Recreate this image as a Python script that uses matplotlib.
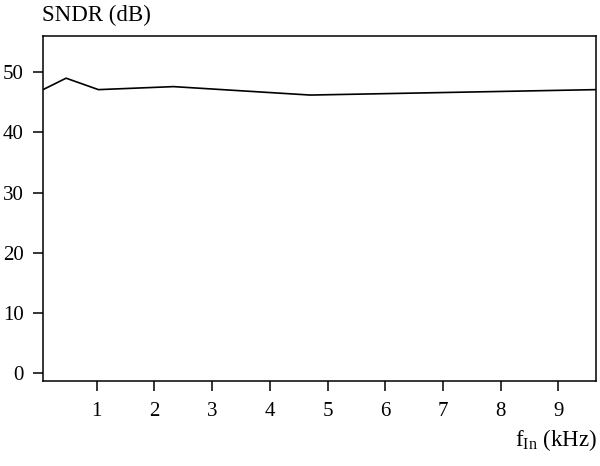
import matplotlib
matplotlib.use("Agg")
import matplotlib.pyplot as plt

# SNDR vs input frequency
f_in = [0.07, 0.47, 1.03, 2.33, 4.7, 9.65]
sndr = [47.1, 49.0, 47.1, 47.6, 46.2, 47.1]

plt.rcParams['font.family'] = ['Liberation Serif', 'DejaVu Serif']

fig = plt.figure(figsize=(6, 4.66), dpi=100)
ax = fig.add_axes([43/600, 1 - 381/466, (596-43)/600, (381-36)/466])

ax.plot(f_in, sndr, color='black', linewidth=1.2)

ax.set_xlim(0.07, 9.65)
ax.set_ylim(-1.25, 56)
ax.set_xticks(range(1, 10))
ax.set_yticks(range(0, 51, 10))
ax.tick_params(axis='both', direction='out', length=7, width=1.1, labelsize=15)
ax.tick_params(axis='x', pad=8)
ax.tick_params(axis='y', pad=7)
for s in ax.spines.values():
    s.set_linewidth(1.1)

fig.text(42/600, 1 - 15/466, 'SNDR (dB)', fontsize=16.5, va='center', ha='left')
fig.text(597/600, 1 - 440/466, r'f$_{\mathregular{In}}$ (kHz)', fontsize=16.5, va='center', ha='right')

fig.savefig('out.png', dpi=100)
